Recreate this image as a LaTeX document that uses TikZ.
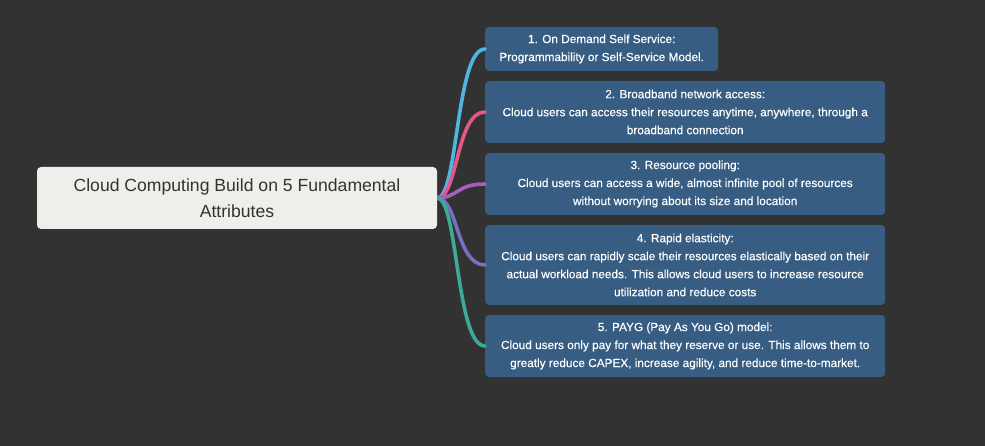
\documentclass[tikz,border=0pt]{standalone}
\usepackage{fontspec}
\setmainfont{Liberation Sans}
\newfontfamily\leaffont[FakeBold=0.35]{Liberation Sans}
\definecolor{bg}{HTML}{323232}
\definecolor{rootfill}{HTML}{EEEEEA}
\definecolor{rootink}{HTML}{333333}
\definecolor{boxfill}{HTML}{375D82}
\definecolor{cA}{HTML}{4FB5E3}
\definecolor{cB}{HTML}{E2588A}
\definecolor{cC}{HTML}{A85DC2}
\definecolor{cD}{HTML}{7470C4}
\definecolor{cE}{HTML}{3FA898}
\begin{document}
\begin{tikzpicture}[x=1pt,y=-1pt,
  rootbox/.style={fill=rootfill,rounded corners=4pt,inner sep=0pt,text=rootink,
    align=center,font=\fontsize{17.6}{26.5}\selectfont},
  leafbox/.style={fill=boxfill,rounded corners=4pt,inner sep=0pt,text=white,
    align=center,font=\leaffont\fontsize{11.8}{18}\selectfont},
  link/.style={line width=3.6pt,line cap=round}]
\fill[bg] (0,0) rectangle (985,446);
\useasboundingbox (0,0) rectangle (985,446);

\node[rootbox,minimum width=400pt,minimum height=62pt] (root) at (237,198)
  {Cloud Computing Build on 5 Fundamental\\Attributes};

\node[leafbox,minimum width=233pt,minimum height=44pt,anchor=west] (n1) at (485,49)
  {1. On Demand Self Service:\\Programmability or Self-Service Model.};
\node[leafbox,minimum width=400pt,minimum height=62pt,anchor=west] (n2) at (485,112)
  {2. Broadband network access:\\Cloud users can access their resources anytime, anywhere, through a\\broadband connection};
\node[leafbox,minimum width=400pt,minimum height=62pt,anchor=west] (n3) at (485,184)
  {3. Resource pooling:\\Cloud users can access a wide, almost infinite pool of resources\\without worrying about its size and location};
\node[leafbox,minimum width=400pt,minimum height=80pt,anchor=west] (n4) at (485,265)
  {4. Rapid elasticity:\\Cloud users can rapidly scale their resources elastically based on their\\actual workload needs. This allows cloud users to increase resource\\utilization and reduce costs};
\node[leafbox,minimum width=400pt,minimum height=62pt,anchor=west] (n5) at (485,346)
  {5. PAYG (Pay As You Go) model:\\Cloud users only pay for what they reserve or use. This allows them to\\greatly reduce CAPEX, increase agility, and reduce time-to-market.};

\coordinate (s) at (root.east);
\begin{scope}
\clip (437,0) rectangle (487,446);
\draw[link,cA] (s) .. controls (458,198) and (456,49) .. (n1.west);
\draw[link,cB] (s) .. controls (458,198) and (456,112) .. (n2.west);
\draw[link,cC] (s) .. controls (458,198) and (456,184) .. (n3.west);
\draw[link,cD] (s) .. controls (458,198) and (456,265) .. (n4.west);
\draw[link,cE] (s) .. controls (458,198) and (456,346) .. (n5.west);
\end{scope}
\end{tikzpicture}
\end{document}
